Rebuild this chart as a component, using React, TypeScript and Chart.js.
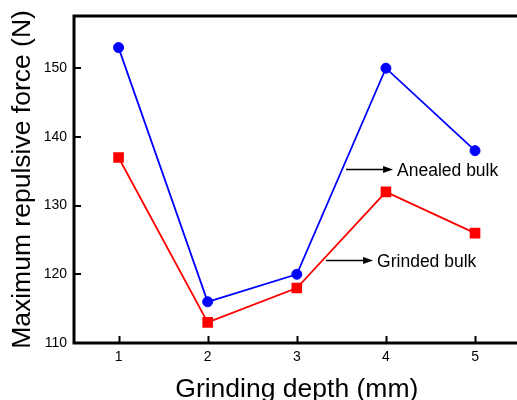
import React, { useEffect, useRef } from 'react';
import { Chart, registerables } from 'chart.js';

Chart.register(...registerables);

// ---- data ----
const depths = [1, 2, 3, 4, 5];
const annealedBulk = [153, 116, 120, 150, 138];
const grindedBulk = [137, 113, 118, 132, 126];
const yTickValues = [110, 120, 130, 140, 150];
const xTitle = 'Grinding depth (mm)';
const yTitle = 'Maximum repulsive force (N)';
// in-plot labels with arrows (data units)
const noteTexts = ['Anealed bulk', 'Grinded bulk'];
const noteArrowStartX = [3.553, 3.329];
const noteArrowEndX = [4.08, 3.856];
const noteY = [135.36, 122.1];

const FONT = '"Liberation Sans", Arial, Helvetica, sans-serif';

const framePlugin = {
  id: 'frameAndNotes',
  afterDraw(chart: any) {
    const { ctx, chartArea: a, scales } = chart;
    const xs = scales.x;
    const ys = scales.y;
    ctx.save();
    // frame
    ctx.strokeStyle = '#000';
    ctx.lineWidth = 3;
    ctx.lineJoin = 'miter';
    ctx.beginPath();
    ctx.rect(a.left, a.top, a.right - a.left, a.bottom - a.top);
    ctx.stroke();
    // inward ticks
    ctx.lineWidth = 2;
    ctx.beginPath();
    depths.forEach((d) => {
      const px = Math.round(xs.getPixelForValue(d)) + 0.5;
      ctx.moveTo(px, a.bottom);
      ctx.lineTo(px, a.bottom - 7);
    });
    yTickValues.forEach((v) => {
      const py = Math.round(ys.getPixelForValue(v));
      ctx.moveTo(a.left, py);
      ctx.lineTo(a.left + 7, py);
    });
    ctx.stroke();

    // axis titles
    ctx.fillStyle = '#000';
    ctx.font = `26.5px ${FONT}`;
    ctx.textAlign = 'center';
    ctx.textBaseline = 'alphabetic';
    ctx.fillText(xTitle, (a.left + a.right) / 2, a.bottom + 54);
    ctx.save();
    ctx.translate(30, (a.top + a.bottom) / 2);
    ctx.rotate(-Math.PI / 2);
    ctx.fillText(yTitle, 0, 0);
    ctx.restore();

    // notes with arrows
    ctx.font = `17.5px ${FONT}`;
    ctx.textAlign = 'left';
    noteTexts.forEach((t, i) => {
      const x0 = xs.getPixelForValue(noteArrowStartX[i]);
      const x1 = xs.getPixelForValue(noteArrowEndX[i]);
      const py = Math.round(ys.getPixelForValue(noteY[i])) + 0.5;
      ctx.lineWidth = 1.5;
      ctx.beginPath();
      ctx.moveTo(x0, py);
      ctx.lineTo(x1 - 8, py);
      ctx.stroke();
      ctx.beginPath();
      ctx.moveTo(x1, py);
      ctx.lineTo(x1 - 10, py - 3.5);
      ctx.lineTo(x1 - 10, py + 3.5);
      ctx.closePath();
      ctx.fill();
      ctx.fillText(t, x1 + 4, py + 6.3);
    });
    ctx.restore();
  },
};

export default function App() {
  const ref = useRef<HTMLCanvasElement | null>(null);

  useEffect(() => {
    if (!ref.current) return;
    const chart = new Chart(ref.current, {
      type: 'line',
      data: {
        datasets: [
          {
            label: 'Anealed bulk',
            data: depths.map((d, i) => ({ x: d, y: annealedBulk[i] })),
            borderColor: '#0000ff',
            backgroundColor: '#0000ff',
            borderWidth: 1.8,
            pointStyle: 'circle',
            pointRadius: 5,
            pointBorderWidth: 1,
            pointBorderColor: '#0000ff',
            pointBackgroundColor: '#0000ff',
            tension: 0,
          },
          {
            label: 'Grinded bulk',
            data: depths.map((d, i) => ({ x: d, y: grindedBulk[i] })),
            borderColor: '#ff0000',
            backgroundColor: '#ff0000',
            borderWidth: 1.8,
            pointStyle: 'rect',
            pointRadius: 7.5,
            pointBorderWidth: 0,
            pointBackgroundColor: '#ff0000',
            tension: 0,
          },
        ],
      },
      options: {
        responsive: false,
        animation: false,
        devicePixelRatio: 1,
        layout: { padding: { left: 0, top: 16, right: 20.4, bottom: 0 } },
        plugins: {
          legend: { display: false },
          tooltip: { enabled: false },
          title: { display: false },
        },
        scales: {
          x: {
            type: 'linear',
            min: 0.5,
            max: 5.5,
            grid: { display: false, drawTicks: false },
            border: { display: false },
            afterBuildTicks: (s: any) => {
              s.ticks = depths.map((v) => ({ value: v }));
            },
            afterFit: (s: any) => {
              s.height = 57;
            },
            ticks: {
              color: '#000',
              font: { family: FONT, size: 14 },
              padding: 6,
              maxRotation: 0,
              callback: (v: any) => String(v),
            },
          },
          y: {
            type: 'linear',
            min: 110,
            max: 157.6,
            grid: { display: false, drawTicks: false },
            border: { display: false },
            afterBuildTicks: (s: any) => {
              s.ticks = yTickValues.map((v) => ({ value: v }));
            },
            afterFit: (s: any) => {
              s.width = 74;
            },
            ticks: {
              color: '#000',
              font: { family: FONT, size: 14 },
              padding: 7,
              callback: (v: any) => String(v),
            },
          },
        },
      },
      plugins: [framePlugin],
    });
    return () => chart.destroy();
  }, []);

  return (
    <div
      style={{
        position: 'absolute',
        left: 0,
        top: 0,
        width: 517,
        height: 400,
        overflow: 'hidden',
        background: '#fff',
      }}
    >
      <canvas ref={ref} width={540} height={400} style={{ display: 'block', width: 540, height: 400 }} />
    </div>
  );
}
